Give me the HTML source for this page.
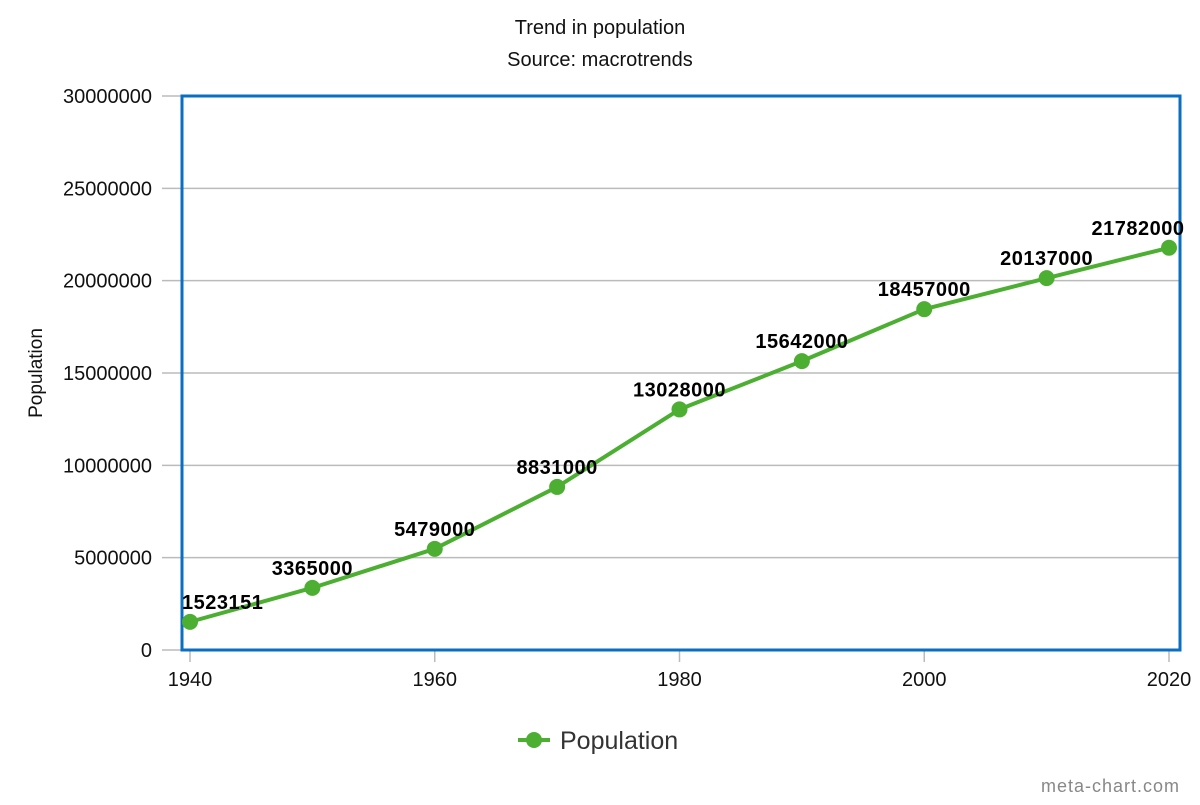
<!DOCTYPE html>
<html><head><meta charset="utf-8"><style>
body{margin:0;background:#fff;font-family:"Liberation Sans",sans-serif}
svg text{font-family:"Liberation Sans",sans-serif}
</style></head><body>
<svg width="1200" height="800" id="chart">
<text x="600" y="34" text-anchor="middle" font-size="20" fill="#111">Trend in population</text>
<text x="600" y="66" text-anchor="middle" font-size="20" fill="#111">Source: macrotrends</text>
<text transform="translate(42,373) rotate(-90)" text-anchor="middle" font-size="19" fill="#111">Population</text>
<g id="grid"></g>
<rect x="182" y="96" width="998" height="554" fill="none" stroke="#0a6fc2" stroke-width="3"/>
<g id="marks"></g>
<g>
<line x1="518" y1="740" x2="550" y2="740" stroke="#4caf32" stroke-width="4"/>
<circle cx="534" cy="740" r="8" fill="#4caf32"/>
<text x="560" y="749" font-size="25" fill="#333" font-family="DejaVu Sans, sans-serif">Population</text>
</g>
<text x="1180" y="792" text-anchor="end" font-size="18" letter-spacing="1" fill="#888">meta-chart.com</text>
</svg>
<script>
const years=[1940,1950,1960,1970,1980,1990,2000,2010,2020];
const values=[1523151,3365000,5479000,8831000,13028000,15642000,18457000,20137000,21782000];
const yTicks=[0,5000000,10000000,15000000,20000000,25000000,30000000];
const xTicks=[1940,1960,1980,2000,2020];
const NS="http://www.w3.org/2000/svg";
const xs=v=>190+(v-1940)*(1169-190)/80;
const ys=v=>650-v*554/30000000;
function mk(t,a,p){const e=document.createElementNS(NS,t);for(const k in a)e.setAttribute(k,a[k]);p.appendChild(e);return e;}
const g=document.getElementById('grid'),m=document.getElementById('marks');
yTicks.forEach(v=>{
 const l=mk('line',{x1:162,x2:1180,y1:ys(v),y2:ys(v),stroke:'#bbb','stroke-width':1.5},g);
 
 
 const t=mk('text',{x:152,y:ys(v)+7,'text-anchor':'end','font-size':20,fill:'#111'},g);t.textContent=v;
 
 
});
xTicks.forEach(v=>{
 const l=mk('line',{x1:xs(v),x2:xs(v),y1:650,y2:662,stroke:'#bbb','stroke-width':1.5},g);
 
 
 const t=mk('text',{x:xs(v),y:686,'text-anchor':'middle','font-size':20,fill:'#111'},g);t.textContent=v;
 
 
});
const pl=mk('polyline',{points:years.map((y,i)=>xs(y)+','+ys(values[i])).join(' '),fill:'none',stroke:'#4caf32','stroke-width':4,'stroke-linejoin':'round'},m);


years.forEach((y,i)=>{
 const c=mk('circle',{cx:xs(y),cy:ys(values[i]),r:8,fill:'#4caf32'},m);
 
 
 const ax=i===0?xs(y)-8:(i===years.length-1?xs(y)-31:xs(y));
 const t=mk('text',{x:ax,y:ys(values[i])-13,'text-anchor':i===0?'start':'middle','font-size':20,'font-weight':'bold','letter-spacing':0.5,fill:'#000'},m);
 t.textContent=values[i];
 
 
});
</script>
</body></html>
